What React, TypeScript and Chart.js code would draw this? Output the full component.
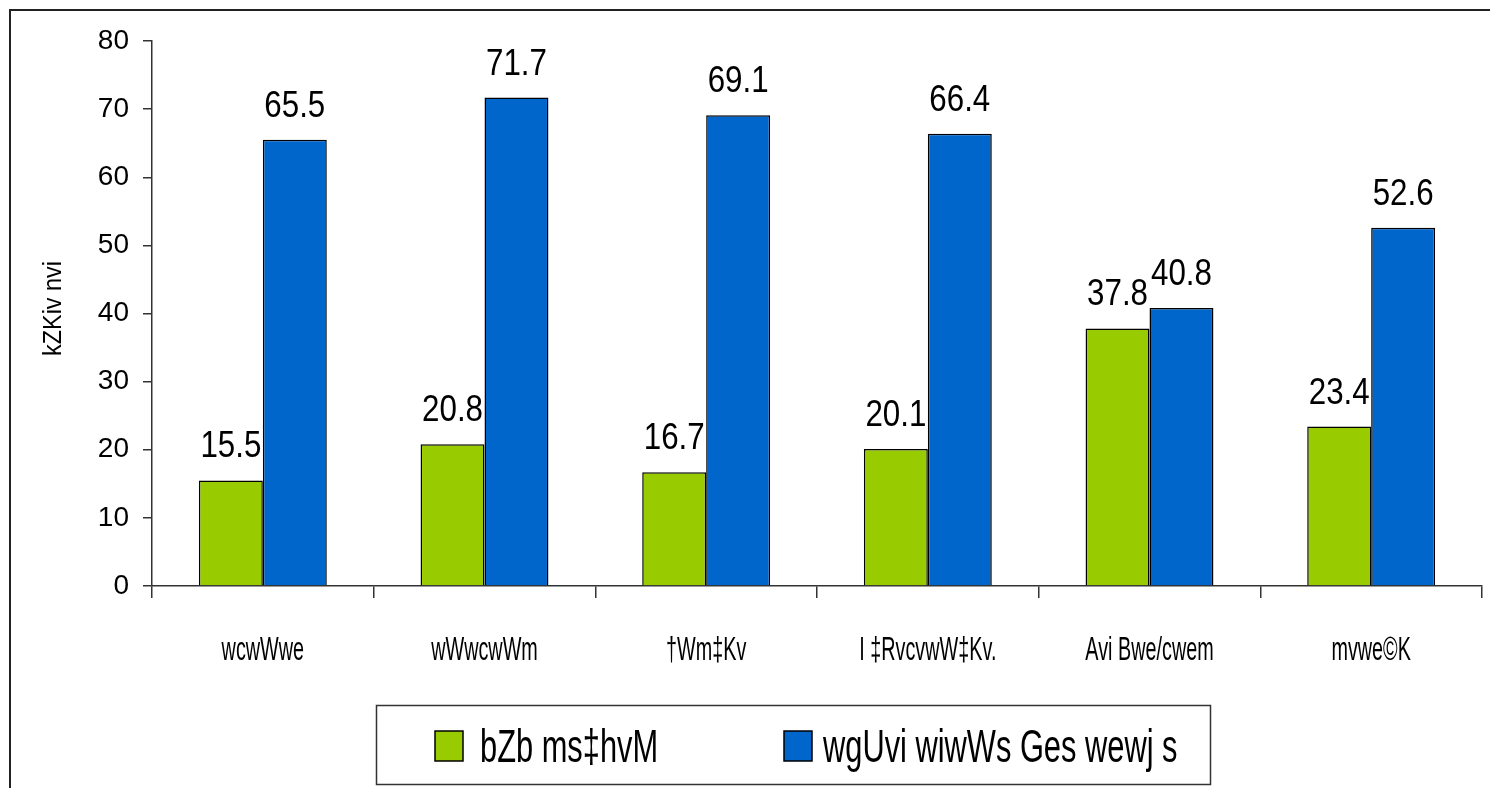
import React, { useEffect, useRef } from "react";
import { Chart, registerables } from "chart.js";

Chart.register(...registerables);

const categories = ["wcwWwe", "wWwcwWm", "†Wm‡Kv", "I ‡RvcvwW‡Kv.", "Avi Bwe/cwem", "mvwe©K"];
const seriesNames = ["bZb ms‡hvM", "wgUvi wiwWs Ges wewj s"];
const newConnection = [15.5, 20.8, 16.7, 20.1, 37.8, 23.4];
const meterReadingBilling = [65.5, 71.7, 69.1, 66.4, 40.8, 52.6];
const yMin = 0;
const yMax = 80;
const yStep = 10;
const yTitle = "kZKiv nvi";

const seriesColors = ["#99CC00", "#0066CC"];
const REGULAR = "'Liberation Sans', Arial, sans-serif";

function drawCondensed(ctx: CanvasRenderingContext2D, text: string, x: number, y: number, sx: number, align: CanvasTextAlign) {
  ctx.save();
  ctx.translate(x, y);
  ctx.scale(sx, 1);
  ctx.textAlign = align;
  ctx.fillText(text, 0, 0);
  ctx.restore();
}

const decorPlugin = {
  id: "decor",
  beforeDraw(chart: any) {
    const ctx = chart.ctx;
    ctx.save();
    ctx.fillStyle = "#ffffff";
    ctx.fillRect(0, 0, chart.width, chart.height);
    ctx.restore();
  },
  afterDraw(chart: any) {
    const ctx: CanvasRenderingContext2D = chart.ctx;
    const area = chart.chartArea;
    ctx.save();
    // outer frame
    ctx.strokeStyle = "#222";
    ctx.lineWidth = 2;
    ctx.beginPath();
    ctx.moveTo(10, chart.height + 5);
    ctx.lineTo(10, 10);
    ctx.lineTo(chart.width + 5, 10);
    ctx.stroke();

    // y axis title
    ctx.save();
    ctx.translate(54, (area.top + area.bottom) / 2 - 5);
    ctx.rotate(-Math.PI / 2);
    ctx.fillStyle = "#000";
    ctx.font = `26px ${REGULAR}`;
    ctx.textBaseline = "middle";
    drawCondensed(ctx, yTitle, 0, 0, 0.9, "center");
    ctx.restore();

    // category labels (condensed)
    const xs = chart.scales.x;
    ctx.fillStyle = "#000";
    ctx.font = `33px ${REGULAR}`;
    ctx.textBaseline = "alphabetic";
    categories.forEach((c, i) => {
      drawCondensed(ctx, c, xs.getPixelForTick(i), 660, 0.6, "center");
    });

    // data labels
    ctx.font = `36px ${REGULAR}`;
    chart.data.datasets.forEach((ds: any, di: number) => {
      const meta = chart.getDatasetMeta(di);
      meta.data.forEach((el: any, i: number) => {
        drawCondensed(ctx, Number(ds.data[i]).toFixed(1), el.x, el.y - 23, 0.87, "center");
      });
    });

    // legend box
    ctx.strokeStyle = "#333";
    ctx.lineWidth = 1.5;
    ctx.strokeRect(376.5, 705.5, 834, 79);
    const sq = [435, 784];
    const tx = [480, 823];
    ctx.font = `46px ${REGULAR}`;
    seriesNames.forEach((name, i) => {
      ctx.fillStyle = seriesColors[i];
      ctx.fillRect(sq[i], 731, 28, 30);
      ctx.strokeStyle = "#000";
      ctx.lineWidth = 1.5;
      ctx.strokeRect(sq[i], 731, 28, 30);
      ctx.fillStyle = "#000";
      drawCondensed(ctx, name, tx[i], 762, 0.67, "left");
    });
    ctx.restore();
  },
};

export default function App() {
  const canvasRef = useRef<HTMLCanvasElement | null>(null);

  useEffect(() => {
    document.body.style.margin = "0";
    const canvas = canvasRef.current;
    if (!canvas) return;
    const chart = new Chart(canvas, {
      type: "bar",
      data: {
        labels: categories,
        datasets: [
          {
            label: seriesNames[0],
            data: newConnection,
            backgroundColor: seriesColors[0],
            borderColor: "#000",
            borderWidth: 1.5,
            categoryPercentage: 0.577,
            barPercentage: 1,
          },
          {
            label: seriesNames[1],
            data: meterReadingBilling,
            backgroundColor: seriesColors[1],
            borderColor: "#000",
            borderWidth: 1.5,
            categoryPercentage: 0.577,
            barPercentage: 1,
          },
        ],
      },
      options: {
        animation: false,
        responsive: false,
        maintainAspectRatio: false,
        layout: { padding: { left: 0, top: 41, right: 8, bottom: 0 } },
        plugins: {
          legend: { display: false },
          tooltip: { enabled: false },
          title: { display: false },
        },
        scales: {
          x: {
            grid: {
              display: true,
              drawOnChartArea: false,
              drawTicks: true,
              tickLength: 12,
              color: "#333",
              lineWidth: 1.5,
              offset: true,
            },
            border: { display: true, color: "#333", width: 1.5 },
            ticks: {
              display: false,
              autoSkip: false,
              maxRotation: 0,
              minRotation: 0,
            },
            afterFit: (s: any) => {
              s.height = 202;
            },
          },
          y: {
            min: yMin,
            max: yMax,
            ticks: {
              stepSize: yStep,
              font: { family: REGULAR, size: 28 },
              color: "#000",
              padding: 14,
            },
            grid: {
              display: true,
              drawOnChartArea: false,
              drawTicks: true,
              tickLength: 9,
              color: "#333",
              lineWidth: 1.5,
            },
            border: { display: true, color: "#333", width: 1.5 },
            afterFit: (s: any) => {
              s.width = 152;
            },
          },
        },
      },
      plugins: [decorPlugin],
    } as any);
    return () => chart.destroy();
  }, []);

  return (
    <div style={{ position: "fixed", left: 0, top: 0, width: 1490, height: 788 }}>
      <canvas ref={canvasRef} width={1490} height={788} style={{ display: "block" }} />
    </div>
  );
}
